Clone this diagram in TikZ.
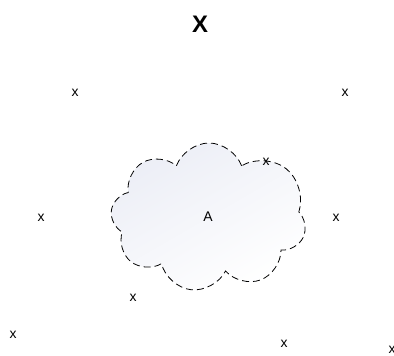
\documentclass[tikz,border=0pt]{standalone}
\usepackage{fontspec}
\setmainfont{Liberation Sans}
\usepackage{tikz}
\usetikzlibrary{shapes.symbols}
\definecolor{cloudgray}{RGB}{236,238,246}

\begin{document}
\begin{tikzpicture}[x=1bp,y=-1bp,
 elem/.style={font=\fontsize{14}{16}\selectfont,inner sep=0pt},
 title/.style={font=\fontsize{24}{28}\selectfont\bfseries,inner sep=0pt},
 area/.style={cloud,cloud puffs=8.5,cloud puff arc=140,cloud ignores aspect,draw=black,
  dash pattern=on 7bp off 4bp,thick,
  minimum width=196bp,minimum height=148bp,top color=cloudgray,bottom color=white,shading angle=30}
]
\useasboundingbox (0,0) rectangle (394,356);
\node[area] (cl) at (209,217) {};
\node[elem] (a) at (208,217) {A};
\node[title] (t) at (200,24) {X};
\node[elem] (x1) at (75,93) {x}; \node[elem] (x2) at (345,93) {x};
\node[elem] (x3) at (41,218) {x}; \node[elem] (x4) at (336,218) {x};
\node[elem] (x5) at (266,162) {x}; \node[elem] (x6) at (133,298) {x};
\node[elem] (x7) at (13,335) {x}; \node[elem] (x8) at (284,344) {x};
\node[elem] (x9) at (392,350) {x};
\end{tikzpicture}
\end{document}
